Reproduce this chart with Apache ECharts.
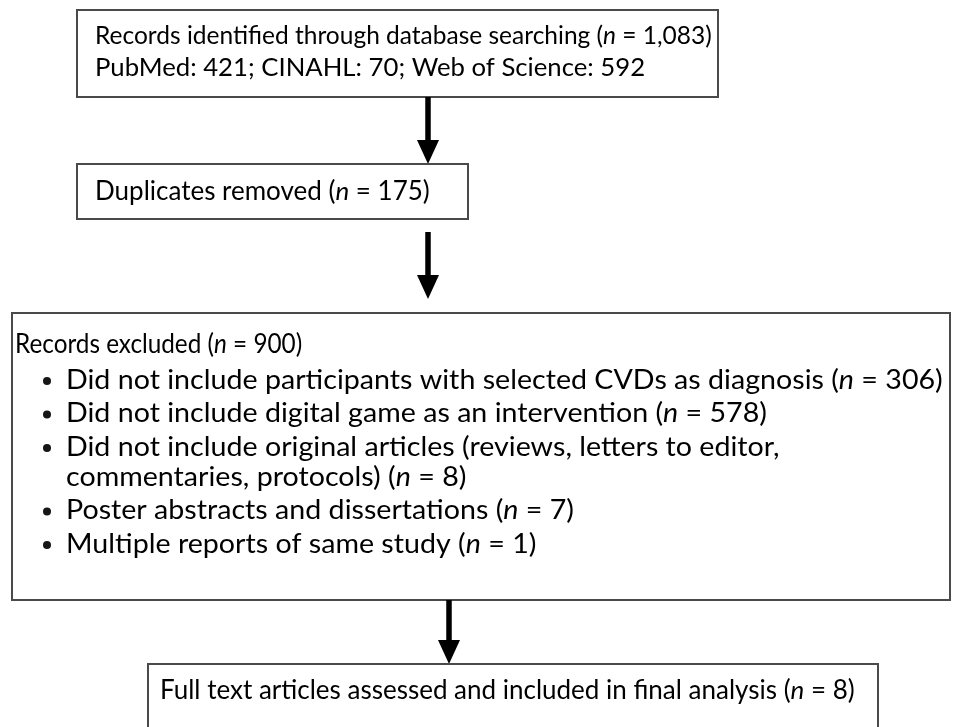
<!DOCTYPE html>
<html>
<head>
<meta charset="utf-8">
<script src="https://cdn.jsdelivr.net/npm/echarts@6/dist/echarts.min.js"></script>
<style>
  html, body { margin: 0; padding: 0; background: #fff; }
  #chart { width: 958px; height: 727px; }
</style>
</head>
<body>
<div id="chart"></div>
<script>
// flow stages (top to bottom)
const stageLabels = [
  'Records identified through database searching',
  'Duplicates removed',
  'Records excluded',
  'Full text articles assessed and included in final analysis'
];
const stageCounts = [1083, 175, 900, 8];

// database breakdown for the first box
const sourceNames = ['PubMed', 'CINAHL', 'Web of Science'];
const sourceCounts = [421, 70, 592];

// exclusion reasons (second line of a wrapped reason after \n)
const exclusionReasons = [
  'Did not include participants with selected CVDs as diagnosis',
  'Did not include digital game as an intervention',
  'Did not include original articles (reviews, letters to editor,\ncommentaries, protocols)',
  'Poster abstracts and dissertations',
  'Multiple reports of same study'
];
const exclusionCounts = [306, 578, 8, 7, 1];

const FONT = 'Lato, "Open Sans", sans-serif';
const INK = '#161616';
const EDGE = '#4a4a4a';

const fmt = v => v.toLocaleString('en-US');

// "label (n = x)" with the n in italics, as rich text
function withN(label, n, cls) {
  return `{${cls}|${label} (}{${cls}i|n}{${cls}| = ${fmt(n)})}`;
}
function richFor(cls, size) {
  const o = {};
  o[cls] = { fontFamily: FONT, fontSize: size, color: INK };
  o[cls + 'i'] = { fontFamily: FONT, fontSize: size, color: INK, fontStyle: 'italic' };
  return o;
}

function box(x, y, w, h) {
  return {
    type: 'rect',
    shape: { x: x, y: y, width: w, height: h },
    style: { fill: '#fff', stroke: EDGE, lineWidth: 2 }
  };
}
function arrow(x, y1, y2) {
  return [
    { type: 'line', shape: { x1: x, y1: y1, x2: x, y2: y2 - 20 },
      style: { stroke: '#000', lineWidth: 5.5 } },
    { type: 'polygon', shape: { points: [[x - 11, y2 - 24], [x + 11, y2 - 24], [x, y2]] },
      style: { fill: '#000' } }
  ];
}
function text(x, y, str, rich, sx) {
  return {
    type: 'text', x: x, y: y, scaleX: sx || 1,
    style: { text: str, rich: rich, verticalAlign: 'middle', align: 'left' }
  };
}

const elements = [];

// box 1: identification
elements.push(box(77, 10, 641, 87));
elements.push(text(95, 36, withN(stageLabels[0], stageCounts[0], 'a'), richFor('a', 24.5)));
elements.push(text(95, 68,
  '{a|' + sourceNames.map((s, i) => s + ': ' + sourceCounts[i]).join('; ') + '}',
  richFor('a', 24.5), 1.05));
elements.push(...arrow(428, 97, 164));

// box 2: duplicates
elements.push(box(77, 164, 391, 55));
elements.push(text(95, 192, withN(stageLabels[1], stageCounts[1], 'b'), richFor('b', 26)));
elements.push(...arrow(428, 232, 299));

// box 3: exclusions
elements.push(box(12, 313, 938, 287));
elements.push(text(15, 344, withN(stageLabels[2], stageCounts[2], 'c'), richFor('c', 27), 0.9));
let ly = 380;
exclusionReasons.forEach((r, i) => {
  const parts = r.split('\n');
  elements.push({
    type: 'circle', shape: { cx: 47, cy: ly + 1, r: 4 }, style: { fill: INK }
  });
  parts.forEach((p, j) => {
    const last = j === parts.length - 1;
    const str = last ? withN(p, exclusionCounts[i], 'c') : '{c|' + p + '}';
    elements.push(text(66, ly, str, richFor('c', 27), 1.06));
    ly += j < parts.length - 1 ? 30 : 33.5;
  });
});
elements.push(...arrow(449, 600, 664));

// box 4: included
elements.push(box(148, 664, 730, 70));
elements.push(text(160, 691, withN(stageLabels[3], stageCounts[3], 'd'), richFor('d', 26)));

const chart = echarts.init(document.getElementById('chart'));
chart.setOption({
  backgroundColor: '#fff',
  graphic: { elements: elements }
});
</script>
</body>
</html>
